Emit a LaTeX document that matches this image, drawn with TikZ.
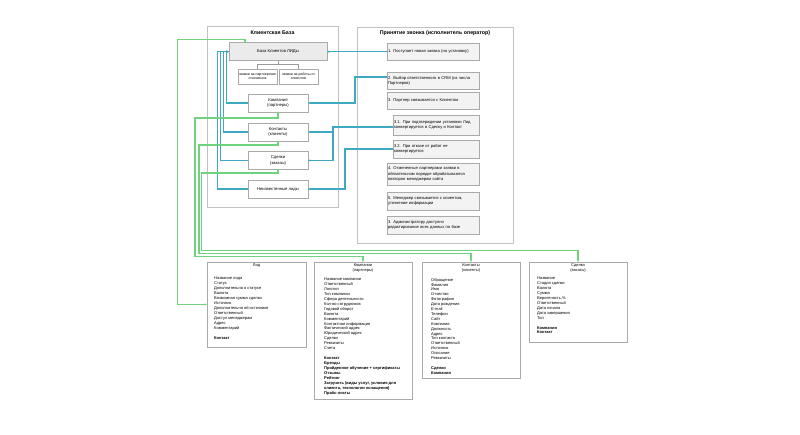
\documentclass[tikz,border=0pt]{standalone}
\usepackage{fontspec}
\setmainfont{Liberation Sans}
\usetikzlibrary{arrows.meta}
\definecolor{tealc}{HTML}{3FA9C4}
\definecolor{greenc}{HTML}{6ED37C}
\definecolor{contc}{HTML}{C2C2C2}
\definecolor{bordc}{HTML}{AAAAAA}
\definecolor{gfill}{HTML}{EBEBEB}
\definecolor{sfill}{HTML}{F3F3F3}
\newcommand\fsz[2]{\fontsize{#1}{#2}\selectfont}
\tikzset{
  container/.style={draw=contc, line width=0.9pt, inner sep=0, outer sep=0},
  ctitle/.style={font=\fsz{5.3}{6}\bfseries, inner sep=0},
  entbox/.style={draw=bordc, fill=white, line width=0.8pt, inner sep=0, outer sep=0, align=center, font=\fsz{4.2}{5.4}, minimum width=60pt, minimum height=18pt},
  lidsbox/.style={draw=bordc, fill=gfill, line width=0.8pt, inner sep=0, outer sep=0, font=\fsz{4.2}{5}, minimum width=98pt, minimum height=18pt},
  smallbox/.style={draw=bordc, fill=white, line width=0.8pt, inner sep=0, outer sep=0, align=center, font=\fsz{3.5}{4.3}, minimum width=39pt, minimum height=15pt},
  stepbox/.style={draw=bordc, fill=sfill, line width=0.8pt, inner sep=1pt, outer sep=0, align=left, font=\fsz{4.1}{5.1}},
  bigbox/.style={draw=bordc, fill=white, line width=0.8pt, inner sep=0, outer sep=0},
  btitle/.style={font=\fsz{4}{5.7}, align=center, inner sep=0},
  blist/.style={font=\fsz{4}{4.9}, align=left, inner sep=0, anchor=north west},
  tconn/.style={color=tealc, draw=tealc, line width=1.05pt, -{Stealth[length=2.5pt,width=2.1pt]}},
  gconn/.style={color=greenc, draw=greenc, line width=1.05pt, -{Stealth[length=2.5pt,width=2.1pt]}},
  brk/.style={color=gray!80, line width=0.7pt}
}
\begin{document}
\begin{tikzpicture}[x=1pt,y=-1pt]
\useasboundingbox (0,0) rectangle (800,435);
\fill[white] (0,0) rectangle (800,435);

% containers
\node[container, minimum width=131pt, minimum height=181pt, anchor=north west] (leftc) at (207,26) {};
\node[ctitle] (leftt) at (272.5,32.5) {Клиентская База};
\node[container, minimum width=156pt, minimum height=216pt, anchor=north west] (rightc) at (357,27) {};
\node[ctitle] (rightt) at (435,33.5) {Принятие звонка (исполнитель оператор)};

% left inner boxes
\node[lidsbox] (lids) at (278,51.7) {База Клиентов ЛИДы};
\node[smallbox] (sa) at (257.5,76.5) {заявки на партнерские\\отношения};
\node[smallbox] (sb) at (298.5,76.5) {заявки на работы от\\клиентов};
\node[entbox] (comp) at (278,103) {Компания\\(партнеры)};
\node[entbox] (cont) at (278,132) {Контакты\\(клиенты)};
\node[entbox] (deal) at (278,160.5) {Сделки\\(заказы)};
\node[entbox] (unk) at (278,189) {Неизвестенные лиды};

\coordinate (br) at (278,64.5);
\draw[brk] (lids.south) -- (br);
\draw[brk] (br) -| (sa.north);
\draw[brk] (br) -| (sb.north);

% steps
\node[stepbox, text width=90pt, minimum height=17pt] (s1) at (433,51.7) {1. Поступает новая заявка (на установку)};
\node[stepbox, text width=90pt, minimum height=17pt] (s2) at (433,80.5) {2. Выбор ответственного в CRM (из числа\\Партнеров)};
\node[stepbox, text width=90pt, minimum height=17pt] (s3) at (433,100.5) {3. Партнер связывается с Клиентом};
\node[stepbox, text width=84pt, minimum height=20pt] (s31) at (436,125) {3.1. При подтверждении установки Лид\\конвертируется в Сделку и Контакт};
\node[stepbox, text width=84pt, minimum height=18pt] (s32) at (436,149) {3.2. При отказе от работ не\\конвертируется};
\node[stepbox, text width=90pt, minimum height=22pt] (s4) at (433,174) {4. Отмененные партнерами заявки в\\обязательном порядке обрабатываются\\повторно менеджером сайта};
\node[stepbox, text width=90pt, minimum height=18pt] (s5) at (433,201) {5. Менеджер связывается с клиентом,\\уточнение информации};
\node[stepbox, text width=90pt, minimum height=18pt] (s6) at (433,225) {3. Администратору доступно\\редактирование всех данных по базе};

% bottom boxes
\node[bigbox, minimum width=99pt, minimum height=85pt] (lidbox) at (256.5,304.5) {};
\node[btitle] (lidt) at (256.5,265.5) {Лид};
\node[blist, font=\fsz{4}{5}] (lidl) at (214,277) {Название лида\\Статус\\Дополнительно о статусе\\Валюта\\Возможная сумма сделки\\Источник\\Дополнительно об источнике\\Ответственный\\Доступ менеджерам\\Адрес\\Комментарий\\[5pt]\textbf{Контакт}};

\node[bigbox, minimum width=98pt, minimum height=137pt] (compbox) at (363,330.5) {};
\node[btitle] (compt) at (363,268) {Компании\\(партнеры)};
\node[blist] (compl) at (324,278) {Название компании\\Ответственный\\Логотип\\Тип компании\\Сфера деятельности\\Кол-во сотрудников\\Годовой оборот\\Валюта\\Комментарий\\Контактная информация\\Фактический адрес\\Юридический адрес\\Сделки\\Реквизиты\\Счета\\[5.5pt]\textbf{Контакт}\\\textbf{Бренды}\\\textbf{Пройденное обучение + сертификаты}\\\textbf{Отзывы}\\\textbf{Рейтинг}\\\textbf{Загрузить (виды услуг, условия для}\\\textbf{клиента, технологии оснащения)}\\\textbf{Прайс-листы}};

\node[bigbox, minimum width=98pt, minimum height=116pt] (contbox) at (471,320) {};
\node[btitle] (contt) at (471,268) {Контакты\\(клиенты)};
\node[blist] (contl) at (431,278) {Обращение\\Фамилия\\Имя\\Отчество\\Фотография\\Дата рождения\\E-mail\\Телефон\\Сайт\\Компания\\Должность\\Адрес\\Тип контакта\\Ответственный\\Источник\\Описание\\Реквизиты\\[5pt]\textbf{Сделки}\\\textbf{Компания}};

\node[bigbox, minimum width=98pt, minimum height=80pt] (dealbox) at (578,302) {};
\node[btitle] (dealt) at (578,268) {Сделки\\(заказы)};
\node[blist] (deall) at (537,277) {Название\\Стадия сделки\\Валюта\\Сумма\\Вероятность,\%\\Ответственный\\Дата начала\\Дата завершения\\Тип\\[5pt]\textbf{Компания}\\\textbf{Контакт}};

% teal connectors
\begin{scope}[color=tealc]
\draw[tconn] (s1.west) -- (lids.east);
\draw[tconn] ([yshift=3.5pt]s2.west) -- ++(-32,0) |- (comp.east);
\draw[tconn] ([yshift=-2pt]s31.west) -- ++(-60,0) coordinate (j31) |- (cont.east);
\draw[tconn] (j31) |- (deal.east);
\draw[tconn] (s32.west) -- ++(-48,0) |- (unk.east);
\draw[tconn] (comp.west) -- ++(-21.3,0) |- (lids.west);
\draw[tconn] (cont.west) -- ++(-24.5,0) |- (lids.west);
\draw[tconn] (deal.west) -- ++(-27.5,0) |- (lids.west);
\draw[tconn] (unk.west) -- ++(-30.5,0) |- (lids.west);
\end{scope}

% green connectors
\coordinate (gs) at (245,42.7);
\coordinate (gt) at (245,39.5);
\coordinate (gl) at (177.3,39.5);
\coordinate (g1) at (195,256.7);
\coordinate (g2) at (199,253.5);
\coordinate (g3) at (201.7,250.3);
\begin{scope}[color=greenc]
\draw[gconn] (comp.south) -- ++(0,6) -| (g1) -| (compbox.north);
\draw[gconn] (gs) -- (gt) -- (gl) |- (lidbox.west);
\draw[gconn] (cont.south) -- ++(0,4) -| (g2) -| (contbox.north);
\draw[gconn] (deal.south) -- ++(0,3.5) -| (g3) -| (dealbox.north);
\end{scope}
\end{tikzpicture}
\end{document}
